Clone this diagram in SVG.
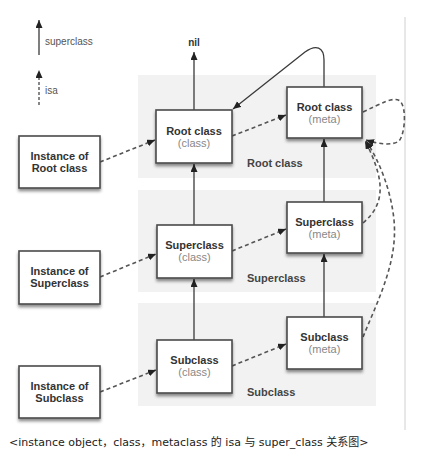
<svg xmlns="http://www.w3.org/2000/svg" width="423" height="463" viewBox="0 0 423 463">
<style>
.band{fill:#f2f2f2}
.node rect{fill:#fff;stroke:#4a4a4a;stroke-width:1.6;filter:url(#sh)}
.t{font-family:"Liberation Sans",Arial,sans-serif;font-size:11px;font-weight:bold;fill:#333;text-anchor:middle}
.s{font-family:"Liberation Sans",Arial,sans-serif;font-size:11px;fill:#888;text-anchor:middle}
.bl{font-family:"Liberation Sans",Arial,sans-serif;font-size:11px;font-weight:bold;fill:#444}
.lg{font-family:"Liberation Sans",Arial,sans-serif;font-size:10px;fill:#555}
.sup{fill:none;stroke:#3a3a3a;stroke-width:1.3;marker-end:url(#ah)}
.isa{fill:none;stroke:#555;stroke-width:1.6;stroke-dasharray:4 3;marker-end:url(#ah)}
.cap{font-family:"DejaVu Sans","Noto Sans CJK SC",sans-serif;font-size:11px;fill:#222}
</style>
<defs>
<marker id="ah" markerUnits="userSpaceOnUse" markerWidth="9" markerHeight="8" refX="8" refY="3.5" orient="auto">
<path d="M0,0 L8,3.5 L0,7 z" fill="#222"/>
</marker>
<filter id="sh" x="-20%" y="-20%" width="140%" height="150%">
<feDropShadow dx="0" dy="2.5" stdDeviation="1.8" flood-color="#000" flood-opacity="0.45"/>
</filter>
</defs>
<line x1="405" y1="17" x2="405" y2="430" stroke="#d0d0d0" stroke-width="1"/>
<g id="bands">
<rect class="band" x="138" y="75" width="238" height="103"/>
<rect class="band" x="138" y="190" width="238" height="102"/>
<rect class="band" x="138" y="303" width="238" height="103"/>
<text class="bl" x="247" y="167">Root class</text>
<text class="bl" x="247" y="282">Superclass</text>
<text class="bl" x="247" y="396">Subclass</text>
</g>
<g id="legend">
<line class="sup" x1="39" y1="55" x2="39" y2="20"/>
<text class="lg" x="45" y="45">superclass</text>
<line x1="39" y1="105" x2="39" y2="70" fill="none" stroke="#555" stroke-width="1.4" stroke-dasharray="3 2" marker-end="url(#ah)"/>
<text class="lg" x="45" y="94">isa</text>
</g>
<text id="nil" x="194" y="46" class="t" style="font-size:10px">nil</text>
<g id="connectors">
<line class="sup" x1="194" y1="110" x2="194" y2="52"/>
<line class="sup" x1="194" y1="225" x2="194" y2="164"/>
<line class="sup" x1="194" y1="340" x2="194" y2="279"/>
<line class="sup" x1="324" y1="202" x2="324" y2="139"/>
<line class="sup" x1="324" y1="317" x2="324" y2="254"/>
<path class="sup" d="M324,87 L324,60 C324,47 316,44 305,52 L233,109"/>
<line class="isa" x1="100" y1="162" x2="155" y2="140"/>
<line class="isa" x1="100" y1="277" x2="156" y2="254"/>
<line class="isa" x1="100" y1="392" x2="156" y2="370"/>
<line class="isa" x1="232" y1="136" x2="286" y2="115"/>
<line class="isa" x1="232" y1="251" x2="286" y2="229"/>
<line class="isa" x1="232" y1="366" x2="286" y2="344"/>
<path class="isa" d="M363,112 C380,104 394,96 400,101 C407,108 405,134 399,141 C392,146 378,144 366,140"/>
<path class="isa" d="M363,223 C376,212 381,200 380,185 C379,170 371,152 365,141"/>
<path class="isa" d="M363,337 C378,300 398,262 394,220 C391,190 379,160 366,141"/>
</g>
<g id="root-class" class="node">
<rect x="156" y="110" width="76" height="53"/>
<text class="t" x="194" y="135">Root class</text>
<text class="s" x="194" y="147">(class)</text>
</g>
<g id="root-meta" class="node">
<rect x="287" y="87" width="75" height="51"/>
<text class="t" x="324.5" y="111">Root class</text>
<text class="s" x="324.5" y="123">(meta)</text>
</g>
<g id="root-instance" class="node">
<rect x="19" y="136" width="81" height="52"/>
<text class="t" x="59.5" y="160">Instance of</text>
<text class="t" x="59.5" y="172">Root class</text>
</g>
<g id="super-class" class="node">
<rect x="157" y="225" width="75" height="53"/>
<text class="t" x="194.5" y="249">Superclass</text>
<text class="s" x="194.5" y="261">(class)</text>
</g>
<g id="super-meta" class="node">
<rect x="287" y="202" width="75" height="51"/>
<text class="t" x="324.5" y="226">Superclass</text>
<text class="s" x="324.5" y="238">(meta)</text>
</g>
<g id="super-instance" class="node">
<rect x="19" y="251" width="81" height="53"/>
<text class="t" x="59.5" y="275">Instance of</text>
<text class="t" x="59.5" y="287">Superclass</text>
</g>
<g id="sub-class" class="node">
<rect x="157" y="340" width="75" height="53"/>
<text class="t" x="194.5" y="364">Subclass</text>
<text class="s" x="194.5" y="376">(class)</text>
</g>
<g id="sub-meta" class="node">
<rect x="287" y="317" width="75" height="52"/>
<text class="t" x="324.5" y="341">Subclass</text>
<text class="s" x="324.5" y="353">(meta)</text>
</g>
<g id="sub-instance" class="node">
<rect x="19" y="366" width="81" height="52"/>
<text class="t" x="59.5" y="390">Instance of</text>
<text class="t" x="59.5" y="402">Subclass</text>
</g>
<text class="cap" x="9" y="446">&lt;instance object，class，metaclass 的 isa 与 super_class 关系图&gt;</text>
</svg>
